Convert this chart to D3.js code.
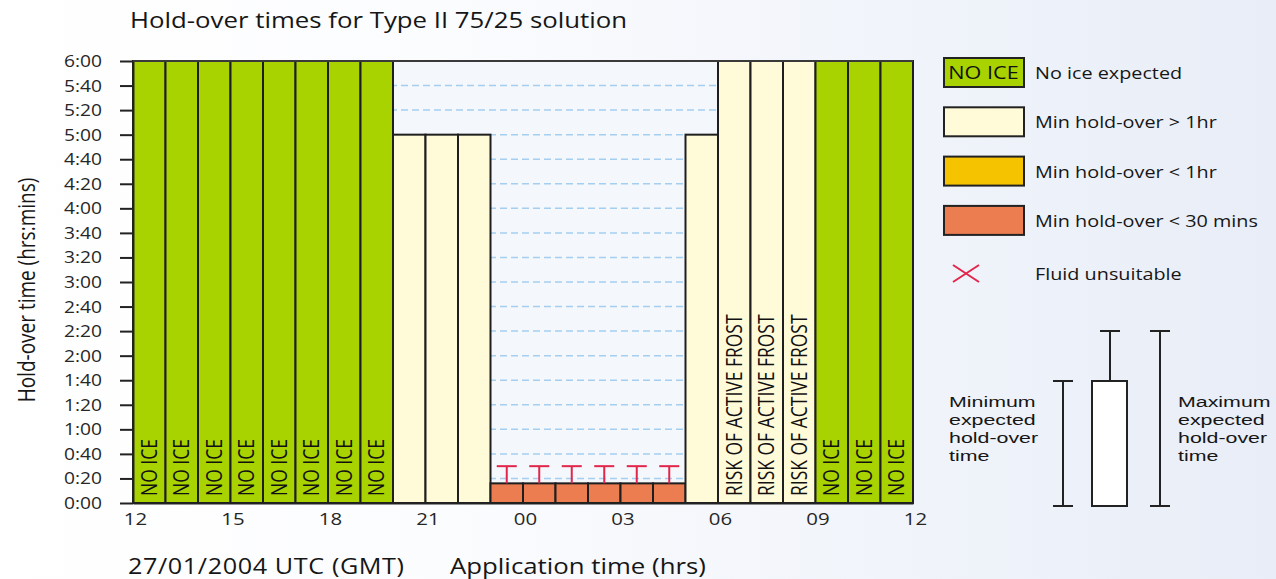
<!DOCTYPE html>
<html>
<head>
<meta charset="utf-8">
<script src="https://cdn.jsdelivr.net/npm/d3@7"></script>
<style>
  html, body { margin: 0; padding: 0; }
  body {
    width: 1276px; height: 579px; overflow: hidden;
    background: linear-gradient(to right, #ffffff 0%, #fbfcfe 35%, #e8edf7 100%);
  }
  svg text { font-family: "Open Sans", sans-serif; fill: #161616; }
</style>
</head>
<body>
<svg id="chart" width="1276" height="579"></svg>
<script>
// hourly slots starting 12 UTC on 27/01/2004
var hours = ["12","13","14","15","16","17","18","19","20","21","22","23",
             "00","01","02","03","04","05","06","07","08","09","10","11"];
// minimum expected hold-over, minutes
var minHold = [360,360,360,360,360,360,360,360, 300,300,300,
               16,16,16,16,16,16, 300, 360,360,360, 360,360,360];
// maximum expected hold-over where the fluid is unsuitable, minutes
var maxHold = [null,null,null,null,null,null,null,null, null,null,null,
               30,30,30,30,30,30, null, null,null,null, null,null,null];
var category = ["noIce","noIce","noIce","noIce","noIce","noIce","noIce","noIce",
                "over1","over1","over1",
                "under30","under30","under30","under30","under30","under30",
                "over1","over1","over1","over1","noIce","noIce","noIce"];
var barNote = ["NO ICE","NO ICE","NO ICE","NO ICE","NO ICE","NO ICE","NO ICE","NO ICE",
               "","","", "","","","","","", "",
               "RISK OF ACTIVE FROST","RISK OF ACTIVE FROST","RISK OF ACTIVE FROST",
               "NO ICE","NO ICE","NO ICE"];
var xTickLabels = ["12","15","18","21","00","03","06","09","12"];
var legendKeys = ["noIce","over1","under1","under30"];
var legendLabels = ["No ice expected","Min hold-over > 1hr","Min hold-over < 1hr","Min hold-over < 30 mins"];

var colours = {noIce: "#a9d300", over1: "#fffad8", under1: "#f5c300", under30: "#ec7d51"};
var SX = 1.2;   // the original lettering is a little wide

function place(sel, x, y, angle, sx){
  sel.attr('transform', 'translate(' + x + ',' + y + ') scale(' + (sx || SX) + ',1)' + (angle ? ' rotate(' + angle + ')' : ''));
  return sel;
}

var svg = d3.select('#chart');

var x = d3.scaleLinear().domain([0, 24]).range([133, 913]);
var y = d3.scaleLinear().domain([0, 360]).range([503, 61]);
var bw = x(1) - x(0);

var fmt = function(m){ var mm = m % 60; return Math.floor(m / 60) + ':' + (mm < 10 ? '0' : '') + mm; };

// plot background and dashed grid
svg.append('rect')
  .attr('x', x(0)).attr('y', y(360))
  .attr('width', x(24) - x(0)).attr('height', y(0) - y(360))
  .style('fill', '#f4f7fc');

svg.append('g').selectAll('line')
  .data(d3.range(20, 360, 20))
.enter().append('line')
  .attr('x1', x(0) + 4).attr('x2', x(24) - 4)
  .attr('y1', function(d){ return y(d); })
  .attr('y2', function(d){ return y(d); })
  .style('stroke', '#a4cff0')
  .style('stroke-width', 1.5)
  .style('stroke-dasharray', '7,4');

// bars
var bars = svg.append('g').selectAll('g')
  .data(hours)
.enter().append('g');

bars.append('rect')
  .attr('x', function(d, i){ return x(i); })
  .attr('y', function(d, i){ return y(minHold[i]); })
  .attr('width', bw)
  .attr('height', function(d, i){ return y(0) - y(minHold[i]); })
  .style('fill', function(d, i){ return colours[category[i]]; })
  .style('stroke', '#1e1e1e')
  .style('stroke-width', 2);

bars.filter(function(d, i){ return barNote[i] !== ''; })
  .append('text')
  .text(function(d){ return barNote[hours.indexOf(d)]; })
  .attr('dy', '0.36em')
  .style('font-size', '17.5px')
  .style('fill', '#111')
  .each(function(d){
    var i = hours.indexOf(d);
    place(d3.select(this), x(i) + bw / 2, 496, -90);
  });

// fluid unsuitable markers
var tees = svg.append('g').selectAll('g')
  .data(hours.filter(function(d, i){ return maxHold[i] !== null; }))
.enter().append('g')
  .style('stroke', '#e2264b')
  .style('stroke-width', 2);

tees.append('line')
  .attr('x1', function(d){ return x(hours.indexOf(d)) + bw / 2; })
  .attr('x2', function(d){ return x(hours.indexOf(d)) + bw / 2; })
  .attr('y1', function(d){ return y(minHold[hours.indexOf(d)]); })
  .attr('y2', function(d){ return y(maxHold[hours.indexOf(d)]); });

tees.append('line')
  .attr('x1', function(d){ return x(hours.indexOf(d)) + bw / 2 - 10; })
  .attr('x2', function(d){ return x(hours.indexOf(d)) + bw / 2 + 10; })
  .attr('y1', function(d){ return y(maxHold[hours.indexOf(d)]); })
  .attr('y2', function(d){ return y(maxHold[hours.indexOf(d)]); });

// axes
var yAxis = svg.append('g')
  .attr('transform', 'translate(' + x(0) + ',0)')
  .call(d3.axisLeft(y).tickValues(d3.range(0, 361, 20)).tickFormat(fmt).tickSize(13).tickSizeOuter(0));

yAxis.selectAll('text')
  .attr('x', 0).attr('dy', '0.34em')
  .attr('transform', 'translate(-31,0) scale(' + SX + ',1)')
  .style('font-size', '16px')
  .style('fill', '#262626');

var xAxis = svg.append('g')
  .attr('transform', 'translate(0,' + y(0) + ')')
  .call(d3.axisBottom(x).tickValues(d3.range(0, 25, 3)).tickFormat(function(d, i){ return xTickLabels[i]; }).tickSize(0).tickSizeOuter(0));

xAxis.selectAll('text')
  .attr('y', 0).attr('dy', 0)
  .attr('transform', 'translate(2,22) scale(' + SX + ',1)')
  .style('font-size', '17px')
  .style('fill', '#262626');

svg.selectAll('.domain, .tick line')
  .style('stroke', '#222')
  .style('stroke-width', 2);

svg.append('line')
  .attr('x1', x(0)).attr('x2', x(24))
  .attr('y1', y(360)).attr('y2', y(360))
  .style('stroke', '#3a3a3a')
  .style('stroke-width', 2);

// titles
place(svg.append('text').text('Hold-over times for Type II 75/25 solution').style('font-size', '21.5px'), 130, 28);
place(svg.append('text').text('Hold-over time (hrs:mins)').attr('text-anchor', 'middle').attr('dy', '0.35em').style('font-size', '19px'), 27, 290, -90);
place(svg.append('text').text('27/01/2004 UTC (GMT)').style('font-size', '21px').style('letter-spacing', '0.5px'), 128, 574);
place(svg.append('text').text('Application time (hrs)').style('font-size', '21.5px'), 450, 574);

// legend
var ly = d3.scaleLinear().domain([0, 1]).range([58, 107.3]);
var leg = svg.append('g').selectAll('g')
  .data(legendKeys)
.enter().append('g');

leg.append('rect')
  .attr('x', 944).attr('y', function(d, i){ return ly(i); })
  .attr('width', 80).attr('height', 29)
  .style('fill', function(d){ return colours[d]; })
  .style('stroke', '#222')
  .style('stroke-width', 2);

leg.append('text')
  .text(function(d, i){ return legendLabels[i]; })
  .style('font-size', '16.5px')
  .each(function(d, i){ place(d3.select(this), 1035, ly(i) + 21); });

place(svg.append('text').text('NO ICE').attr('text-anchor', 'middle').style('font-size', '18px').style('fill', '#111'), 983.5, ly(0) + 21);

var cross = svg.append('g').style('stroke', '#e2264b').style('stroke-width', 2);
cross.append('line').attr('x1', 953).attr('y1', 265).attr('x2', 979).attr('y2', 282);
cross.append('line').attr('x1', 953).attr('y1', 282).attr('x2', 979).attr('y2', 265);
place(svg.append('text').text('Fluid unsuitable').style('font-size', '16.5px'), 1035, 280);

// min / max explanation diagram
var key = svg.append('g').style('stroke', '#222').style('stroke-width', 2).style('fill', 'none');
key.append('path').attr('d', 'M1053,381H1073M1063,381V506M1053,506H1073');
key.append('rect').attr('x', 1092).attr('y', 381).attr('width', 35).attr('height', 125).style('fill', '#fff');
key.append('path').attr('d', 'M1110,381V331M1100,331H1120');
key.append('path').attr('d', 'M1150,331H1170M1160,331V506M1150,506H1170');

var minText = ['Minimum', 'expected', 'hold-over', 'time'];
var maxText = ['Maximum', 'expected', 'hold-over', 'time'];
svg.append('g').selectAll('text').data(minText).enter().append('text')
  .text(function(d){ return d; })
  .style('font-family', '"Liberation Sans", sans-serif')
  .style('font-size', '15.5px')
  .each(function(d, i){ place(d3.select(this), 949, 407 + i * 18, 0, 1.38); });
svg.append('g').selectAll('text').data(maxText).enter().append('text')
  .text(function(d){ return d; })
  .style('font-family', '"Liberation Sans", sans-serif')
  .style('font-size', '15.5px')
  .each(function(d, i){ place(d3.select(this), 1178, 407 + i * 18, 0, 1.38); });
</script>
</body>
</html>
